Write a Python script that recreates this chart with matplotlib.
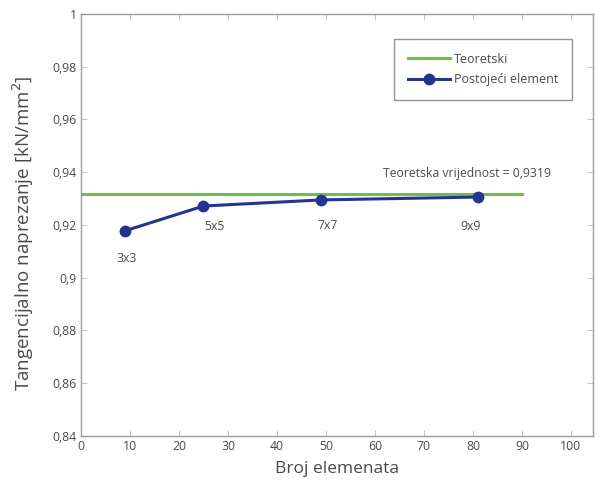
import numpy as np
import matplotlib
matplotlib.use('Agg')
import matplotlib.pyplot as plt

plt.rcParams['font.family'] = ['Open Sans', 'DejaVu Sans']

# broj elemenata i izracunata naprezanja
broj_elemenata = [9, 25, 49, 81]
naprezanje = [0.9178, 0.9272, 0.9295, 0.9306]
mreze = ['3x3', '5x5', '7x7', '9x9']
teoretska = 0.9319
teoretski_x = [0, 90]

text_color = '#4a4a4a'
frame_color = '#9a9a9a'

fig = plt.figure(figsize=(5.98, 4.86), dpi=100)
ax = fig.add_axes([0.1355, 0.1029, 0.856, 0.8683])

ax.plot(teoretski_x, [teoretska, teoretska], color='#6cc04a', lw=2.2, label='Teoretski')
ax.plot(broj_elemenata, naprezanje, color='#25348f', lw=2.2, marker='o',
        markersize=7.5, label='Postojeći element')

# oznake mreza ispod tocaka
offsets = [(2, -28), (11, -20), (7, -26), (-7, -29)]
for x, y, m, off in zip(broj_elemenata, naprezanje, mreze, offsets):
    ax.annotate(m, (x, y), xytext=off, textcoords='offset pixels',
                ha='center', va='center', fontsize=8.8, color=text_color)

ax.annotate('Teoretska vrijednost = ' + str(teoretska).replace('.', ','),
            (80, teoretska), xytext=(-6, 20), textcoords='offset pixels',
            ha='center', va='center', fontsize=8.8, color=text_color)

ax.set_xlim(0, 104.5)
ax.set_ylim(0.84, 1.0)
ax.set_xticks(np.arange(0, 101, 10))
yt = np.arange(0.84, 1.001, 0.02)
ax.set_yticks(yt)
ax.set_yticklabels([('%g' % round(v, 2)).replace('.', ',') for v in yt])

ax.tick_params(direction='in', length=4, width=0.6, color='#bbbbbb',
               labelcolor=text_color, labelsize=8.8, top=True, right=True, pad=3)
for s in ax.spines.values():
    s.set_color(frame_color)
    s.set_linewidth(1.0)

ax.set_xlabel('Broj elemenata', fontsize=12.5, color=text_color, labelpad=6)
ax.set_ylabel('Tangencijalno naprezanje [kN/mm$^2$]', fontsize=13.5,
              color=text_color)
ax.yaxis.set_label_coords(-0.088, 0.48)

leg = ax.legend(loc='upper left', bbox_to_anchor=(0.611, 0.941), fontsize=9,
                frameon=True, fancybox=False, borderpad=1.1, handlelength=3.4,
                handletextpad=0.3, labelspacing=0.6, borderaxespad=0)
leg.get_frame().set_edgecolor('#777777')
leg.get_frame().set_linewidth(1.0)
for t in leg.get_texts():
    t.set_color(text_color)

fig.savefig('out.png', dpi=100)
